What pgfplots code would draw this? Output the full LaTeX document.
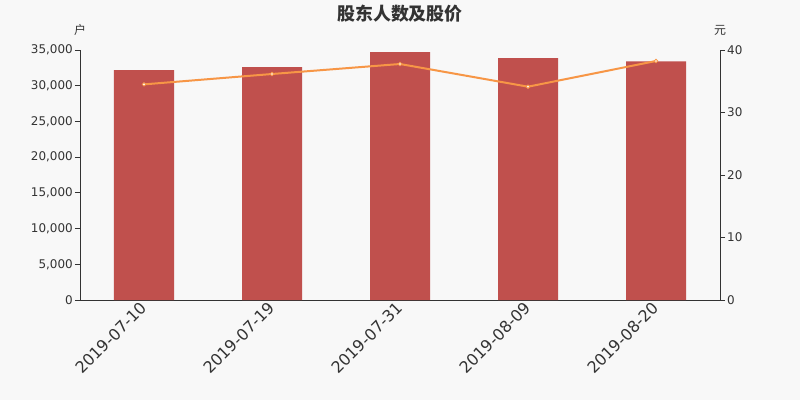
\documentclass[border=0pt]{standalone}
\usepackage{fontspec}
\setmainfont{DejaVu Sans}
\newfontfamily\cjk{Noto Sans CJK SC}
\usepackage{pgfplots}
\pgfplotsset{compat=1.18}
\definecolor{bg}{RGB}{248,248,248}
\definecolor{barc}{RGB}{192,80,77}
\definecolor{linec}{RGB}{247,150,70}
\definecolor{txt}{RGB}{51,51,51}
\begin{document}
\begin{tikzpicture}
\fill[bg] (-80bp,-100bp) rectangle (720bp,300bp);
\useasboundingbox (-80bp,-100bp) rectangle (720bp,300bp);
\begin{axis}[
  at={(0,0)}, anchor=south west, scale only axis,
  width=640bp, height=250bp,
  xmin=-0.5, xmax=4.5, ymin=0, ymax=35000,
  axis y line*=left, axis x line*=bottom,
  axis line style={txt, line width=0.9bp},
  ytick={0,5000,...,35000},
  xtick={0,1,2,3,4},
  xticklabels={2019-07-10,2019-07-19,2019-07-31,2019-08-09,2019-08-20},
  major x tick style={draw=none},
  extra x ticks={-0.5,0.5,1.5,2.5,3.5,4.5},
  extra x tick labels={},
  extra x tick style={major tick length=5bp, tick style={txt, line width=0.9bp}},
  tick align=outside, major tick length=5bp,
  tick style={txt, line width=0.9bp},
  yticklabel style={font=\fontsize{12}{14}\selectfont, text=txt, inner sep=2bp},
  xticklabel style={font=\fontsize{16}{18}\selectfont, text=txt, rotate=45, anchor=east, inner sep=2bp, xshift=2bp},
  /pgf/number format/assume math mode=true,
  /pgf/number format/1000 sep={,},
  scaled y ticks=false,
  title={\cjk\bfseries 股东人数及股价},
  title style={font=\fontsize{18}{20}\selectfont, text=txt, at={(0.5,1)}, anchor=south, yshift=21bp, inner sep=0pt},
  ylabel={\cjk 户},
  ylabel style={rotate=-90, at={(rel axis cs:0,1)}, anchor=south, yshift=14bp, font=\fontsize{12}{14}\selectfont, text=txt, inner sep=0pt},
]
\addplot[ybar, bar width=60bp, fill=barc, draw=none] coordinates {
(0,32200) (1,32620) (2,34720) (3,33880) (4,33420)
};
\end{axis}
\begin{axis}[
  at={(0,0)}, anchor=south west, scale only axis,
  width=640bp, height=250bp,
  xmin=-0.5, xmax=4.5, ymin=0, ymax=40,
  axis y line*=right, axis x line=none,
  axis line style={txt, line width=0.9bp},
  ytick={0,10,...,40},
  tick align=outside, major tick length=5bp,
  tick style={txt, line width=0.9bp},
  yticklabel style={font=\fontsize{12}{14}\selectfont, text=txt, inner sep=2bp},
  /pgf/number format/assume math mode=true,
  ylabel={\cjk 元},
  ylabel style={rotate=-90, at={(rel axis cs:1,1)}, anchor=south, yshift=14bp, font=\fontsize{12}{14}\selectfont, text=txt, inner sep=0pt},
]
\addplot[linec, line width=2bp, mark=*, mark size=1.8bp, mark options={fill=white, draw=linec, line width=0.8bp}] coordinates {
(0,34.5) (1,36.16) (2,37.76) (3,34.13) (4,38.24)
};
\end{axis}
\end{tikzpicture}
\end{document}
